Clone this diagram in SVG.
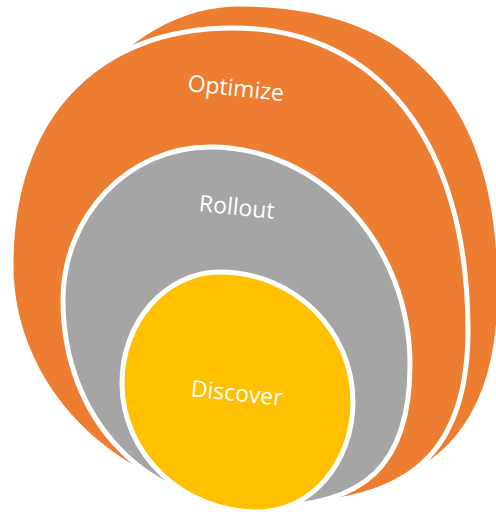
<svg xmlns="http://www.w3.org/2000/svg" width="496" height="512" viewBox="0 0 496 512">
<style>
.o{fill:#ED7D31;stroke:#FFFFFF;stroke-width:5}
.g{fill:#A5A5A5;stroke:#FFFFFF;stroke-width:5}
.y{fill:#FFC000;stroke:#FFFFFF;stroke-width:5}
.t{font-family:"Open Sans","Liberation Sans",sans-serif;font-size:23px;fill:#FFFFFF;text-anchor:middle}
</style>
<rect width="496" height="512" fill="#FFFFFF"/>
<g id="back">
<path class="o" d="M240,4 C411.6,4 500,101.2 500,290 C500,420 440.5,490 330,490 C158.8,490 20,404.9 20,300 C20,136.5 118.5,4 240,4 Z"/>
</g>
<g id="optimize">
<path class="o" d="M233,28 C378.7,28 468,142.8 468,330 C468,452.5 410.1,505 275,505 C129.2,505 11,397.6 11,265 C11,118 95.4,28 233,28 Z"/>
<text class="t" transform="translate(235,96) rotate(6)">Optimize</text>
</g>
<g id="rollout">
<path class="g" d="M210,147 C320.5,147 410,244.6 410,365 C410,464.4 365.6,507 262,507 C146.6,507 63,420.1 63,300 C63,215.5 128.8,147 210,147 Z"/>
<text class="t" transform="translate(236,215) rotate(6)">Rollout</text>
</g>
<g id="discover">
<path class="y" d="M220,272 C293.5,272 353,330.2 353,402 C353,462.8 310.5,512 258,512 C182.9,512 122,454.2 122,383 C122,321.7 165.9,272 220,272 Z"/>
<text class="t" transform="translate(236,401) rotate(6)">Discover</text>
</g>
<g id="connectors"/>
</svg>
